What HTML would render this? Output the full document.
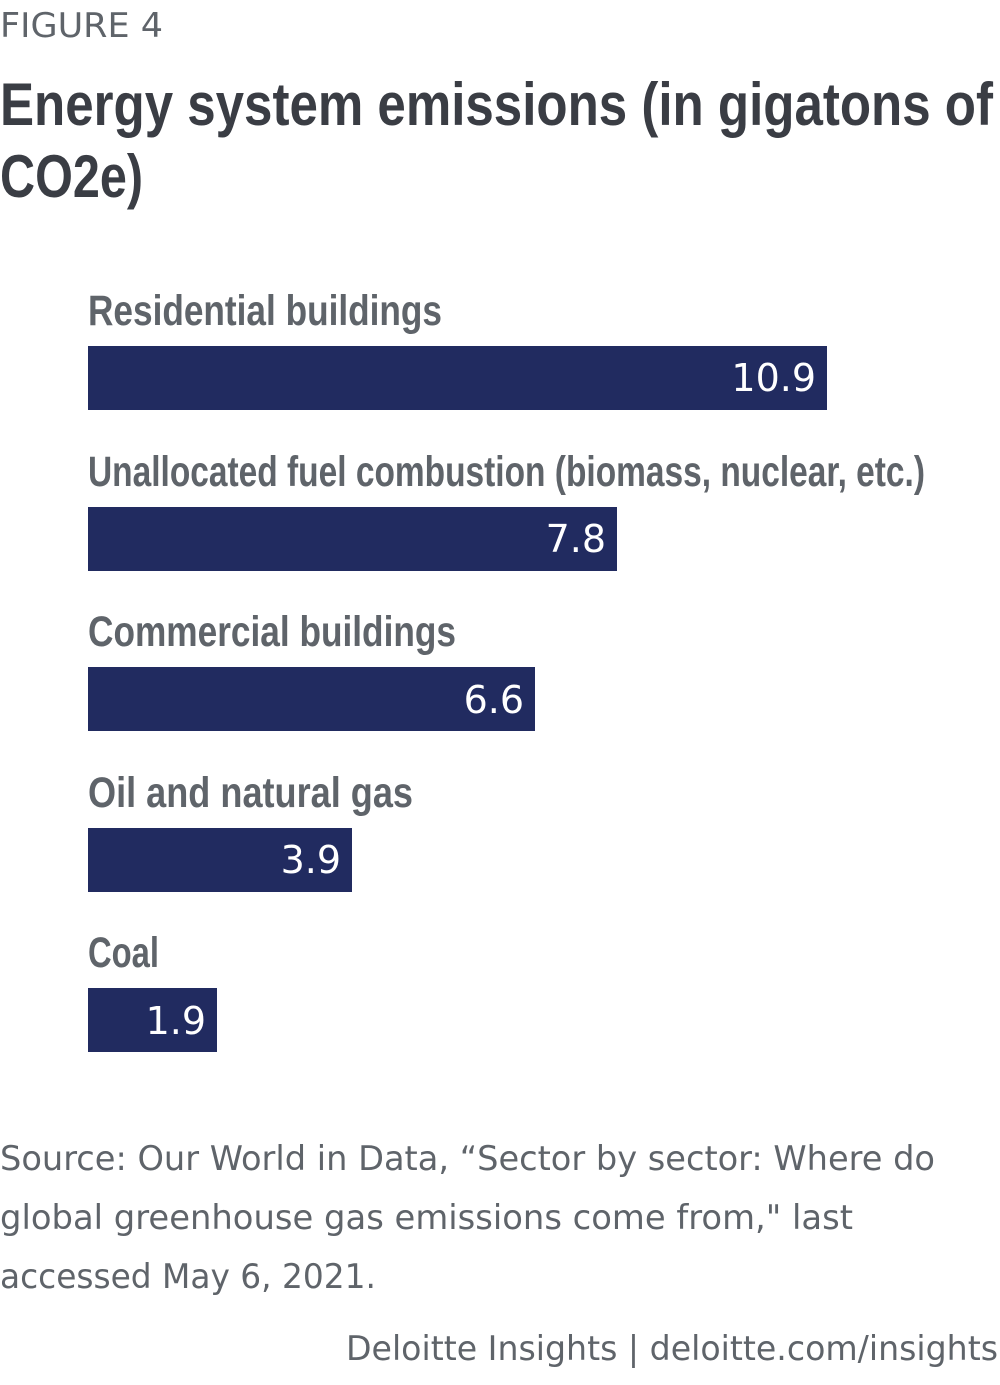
<!DOCTYPE html>
<html><head><meta charset="utf-8"><style>
body{margin:0;width:1000px;height:1385px;background:#fff;overflow:hidden}
svg{display:block}
.t{font-family:"Liberation Sans",sans-serif;font-weight:bold}
.d{font-family:"DejaVu Sans",sans-serif}
</style></head><body>
<svg width="1000" height="1385" viewBox="0 0 1000 1385">
<text class="d" x="0" y="37" font-size="34" fill="#5f646a" textLength="163" lengthAdjust="spacingAndGlyphs">FIGURE 4</text>
<text class="t" x="0" y="125" font-size="60" fill="#3a3d44" textLength="993" lengthAdjust="spacingAndGlyphs">Energy system emissions (in gigatons of</text>
<text class="t" x="0" y="197" font-size="60" fill="#3a3d44" textLength="143" lengthAdjust="spacingAndGlyphs">CO2e)</text>
<g class="t" font-size="43" fill="#5f646a">
<text x="88" y="325" textLength="354" lengthAdjust="spacingAndGlyphs">Residential buildings</text>
<text x="88" y="486" textLength="837" lengthAdjust="spacingAndGlyphs">Unallocated fuel combustion (biomass, nuclear, etc.)</text>
<text x="88" y="646" textLength="368" lengthAdjust="spacingAndGlyphs">Commercial buildings</text>
<text x="88" y="807" textLength="325" lengthAdjust="spacingAndGlyphs">Oil and natural gas</text>
<text x="88" y="967" textLength="71" lengthAdjust="spacingAndGlyphs">Coal</text>
</g>
<g fill="#212b60">
<rect x="88" y="346" width="739" height="64"/>
<rect x="88" y="507" width="529" height="64"/>
<rect x="88" y="667" width="447" height="64"/>
<rect x="88" y="828" width="264" height="64"/>
<rect x="88" y="988" width="129" height="64"/>
</g>
<g class="d" font-size="38" fill="#fff" text-anchor="end">
<text x="816" y="391">10.9</text>
<text x="606" y="552">7.8</text>
<text x="524" y="713">6.6</text>
<text x="341" y="873">3.9</text>
<text x="206" y="1034">1.9</text>
</g>
<g class="d" font-size="34" fill="#5f646a">
<text x="0" y="1170" textLength="935" lengthAdjust="spacingAndGlyphs">Source: Our World in Data, “Sector by sector: Where do</text>
<text x="0" y="1229" textLength="853" lengthAdjust="spacingAndGlyphs">global greenhouse gas emissions come from," last</text>
<text x="0" y="1288" textLength="376" lengthAdjust="spacingAndGlyphs">accessed May 6, 2021.</text>
<text x="346" y="1360" textLength="652" lengthAdjust="spacingAndGlyphs">Deloitte Insights | deloitte.com/insights</text>
</g>
</svg>
</body></html>
